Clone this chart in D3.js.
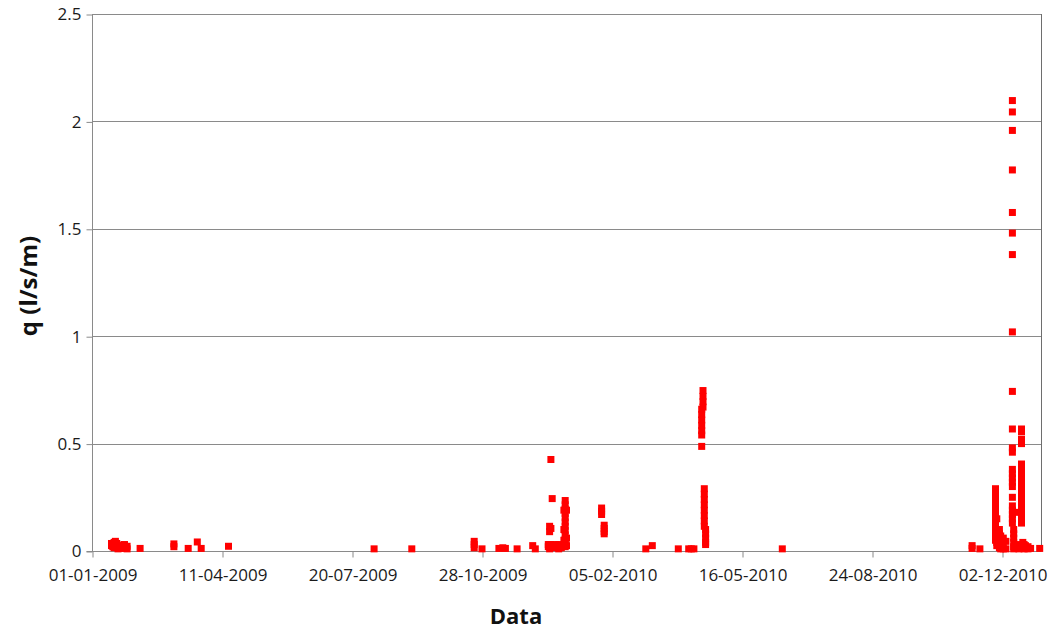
<!DOCTYPE html>
<html><head><meta charset="utf-8">
<script src="https://cdn.jsdelivr.net/npm/d3@7"></script>
<style>body{margin:0;background:#fff} svg{display:block}</style>
</head><body><svg id="chart" width="1050" height="629"></svg>
<script>
// ---- data ----
const xTickLabels = ["01-01-2009","11-04-2009","20-07-2009","28-10-2009","05-02-2010","16-05-2010","24-08-2010","02-12-2010"];
const yTicks = [0, 0.5, 1, 1.5, 2, 2.5];
const xDomain = ["2009-01-01", "2011-01-01"];
const yDomain = [0, 2.5];
const yTitle = "q (l/s/m)";
const xTitle = "Data";

const obsDates = [
  "2009-01-16","2009-01-17","2009-01-18","2009-01-19","2009-01-20","2009-01-21","2009-01-25","2009-01-26","2009-01-28",
  "2009-02-07","2009-03-05","2009-03-16","2009-03-23","2009-03-26","2009-04-16",
  "2009-08-06","2009-09-04","2009-10-22","2009-10-28","2009-11-10","2009-11-13","2009-11-15","2009-11-24",
  "2009-12-06","2009-12-08","2009-12-18","2009-12-19","2009-12-20","2009-12-21","2009-12-24","2009-12-26",
  "2009-12-28","2009-12-30","2009-12-31","2010-01-01","2010-01-28","2010-01-30",
  "2010-03-03","2010-03-08","2010-03-28","2010-04-05","2010-04-07","2010-04-09",
  "2010-04-15","2010-04-16","2010-04-17","2010-04-18","2010-06-16",
  "2010-11-09","2010-11-15","2010-11-27","2010-11-28","2010-11-30","2010-12-01","2010-12-03","2010-12-05",
  "2010-12-10","2010-12-11","2010-12-14","2010-12-15","2010-12-17","2010-12-18","2010-12-19","2010-12-20",
  "2010-12-22","2010-12-24","2010-12-31"
];
const obsQ = [
  [0.035,0.025],[0.03,0.02],[0.04,0.015],[0.045,0.03],[0.035,0.02],[0.025,0.01],[0.028,0.015],[0.03,0.012],[0.022,0.01],
  [0.012],[0.033,0.02],[0.012],[0.042],[0.012],[0.022],
  [0.01],[0.01],[0.045,0.03,0.015],[0.01],[0.012],[0.015],[0.012],[0.01],
  [0.025],[0.01],[0.03,0.02],[0.115,0.09,0.03,0.01],[0.426,0.105,0.03],[0.244,0.02],[0.03,0.015],[0.03,0.01],
  [0.015],[0.19,0.1,0.05,0.03],[0.235,0.215,0.195,0.175,0.155,0.135,0.115,0.095,0.075,0.055,0.035,0.02],[0.19,0.06,0.025],[0.2,0.185,0.17],[0.12,0.105,0.09,0.08],
  [0.01],[0.025],[0.01],[0.01],[0.01],[0.01],
  [0.66,0.635,0.61,0.585,0.56,0.54,0.487],[0.747,0.72,0.695,0.67],[0.29,0.265,0.24,0.215,0.19,0.165,0.14,0.115],[0.1,0.08,0.06,0.04,0.03],[0.01],
  [0.025,0.012],[0.01],[0.29,0.265,0.24,0.215,0.19,0.165,0.14,0.115,0.09,0.07,0.05],[0.15,0.04,0.025],[0.1,0.08,0.06,0.03,0.015],[0.07,0.05,0.02,0.01],[0.06,0.03,0.01],[0.045,0.01],
  [2.097,2.044,1.958,1.774,1.576,1.48,1.38,1.02,0.743,0.568,0.48,0.46,0.38,0.36,0.34,0.32,0.3,0.25,0.21,0.19,0.17,0.15,0.13],
  [0.1,0.08,0.06,0.04,0.02,0.01],[0.18],[0.03,0.01],
  [0.568,0.555,0.52,0.5,0.405,0.375,0.35,0.325,0.3,0.275,0.25,0.225,0.2,0.175,0.15,0.13],
  [0.04,0.02],[0.03,0.01],[0.025],[0.02,0.01],[0.012],[0.012]
];

// ---- chart ----
const parseISO = d3.utcParse("%Y-%m-%d");
const parseTick = d3.utcParse("%d-%m-%Y");
const fmtTick = d3.utcFormat("%d-%m-%Y");
const points = [];
obsDates.forEach((d, i) => obsQ[i].forEach(v => points.push({date: parseISO(d), q: v})));

const L = 92, R = 1041, T = 14, B = 551;
const svg = d3.select("#chart");
const x = d3.scaleUtc().domain(xDomain.map(parseISO)).range([L, R]);
const y = d3.scaleLinear().domain(yDomain).range([B, T]);
const font = "'Open Sans', 'Noto Sans', sans-serif";
const grid = "#8a8a8a";

// gridlines
svg.append("g").selectAll("line").data(yTicks.filter(t => t > 0)).join("line")
  .attr("x1", L).attr("x2", R)
  .attr("y1", d => Math.round(y(d)) + 0.5).attr("y2", d => Math.round(y(d)) + 0.5)
  .attr("stroke", grid).attr("stroke-width", 1);

// right border
svg.append("line").attr("x1", R + 0.5).attr("x2", R + 0.5).attr("y1", T).attr("y2", B)
  .attr("stroke", "#6e6e6e").attr("stroke-width", 1);

// y axis
const yAxis = svg.append("g").attr("transform", `translate(${L + 0.5},0.5)`)
  .call(d3.axisLeft(y).tickValues(yTicks).tickSize(6).tickPadding(5).tickFormat(d3.format("")));
yAxis.select(".domain").attr("stroke", grid).attr("d", `M0,${T}V${B}`);
yAxis.selectAll(".tick line").attr("stroke", grid);
yAxis.selectAll(".tick text").attr("font-family", font).attr("font-size", "17px").attr("fill", "#1a1a1a");

// x axis
const xTicks = xTickLabels.map(parseTick);
const xAxis = svg.append("g").attr("transform", `translate(0.5,${B + 0.5})`)
  .call(d3.axisBottom(x).tickValues(xTicks).tickSize(6).tickPadding(11).tickFormat(fmtTick));
xAxis.select(".domain").attr("stroke", grid).attr("d", `M${L - 6},0H${R}`);
xAxis.selectAll(".tick line").attr("stroke", grid);
xAxis.selectAll(".tick text").attr("font-family", font).attr("font-size", "17px").attr("fill", "#1a1a1a");

// points
const S = 7;
svg.append("g").selectAll("rect").data(points).join("rect")
  .attr("x", d => x(d.date) - S / 2).attr("y", d => y(d.q) - S / 2)
  .attr("width", S).attr("height", S).attr("fill", "#ff0000");

// titles
svg.append("text").attr("x", 516).attr("y", 624).attr("text-anchor", "middle")
  .attr("font-family", font).attr("font-weight", "bold").attr("font-size", "22px").attr("fill", "#111")
  .text(xTitle);
svg.append("text").attr("transform", "translate(37,286) rotate(-90)").attr("text-anchor", "middle")
  .attr("font-family", font).attr("font-weight", "bold").attr("font-size", "24px").attr("fill", "#111")
  .text(yTitle);
</script></body></html>
